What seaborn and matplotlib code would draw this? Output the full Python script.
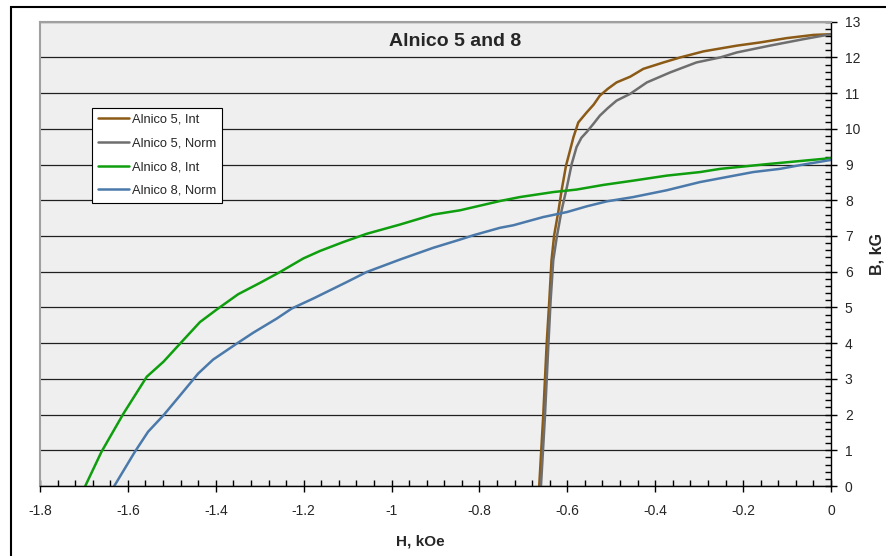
import matplotlib
matplotlib.use("Agg")
import matplotlib.pyplot as plt
import seaborn as sns
import pandas as pd
from matplotlib.patches import Rectangle
from matplotlib.ticker import MultipleLocator

# ---- data ----
a5_int_H = [-0.664, -0.655, -0.647, -0.641, -0.636, -0.630, -0.620, -0.613, -0.603, -0.594,
            -0.586, -0.575, -0.556, -0.540, -0.526, -0.508, -0.488, -0.457, -0.427, -0.381,
            -0.343, -0.290, -0.214, -0.161, -0.101, -0.040, 0.0]
a5_int_B = [0.0, 1.94, 3.99, 5.20, 6.32, 7.02, 7.72, 8.28, 8.97, 9.39,
            9.77, 10.18, 10.46, 10.68, 10.93, 11.12, 11.30, 11.46, 11.68, 11.86,
            12.00, 12.17, 12.33, 12.42, 12.54, 12.63, 12.65]

a5_norm_H = [-0.660, -0.651, -0.643, -0.638, -0.632, -0.624, -0.613, -0.601, -0.590, -0.579,
             -0.568, -0.556, -0.540, -0.526, -0.508, -0.488, -0.457, -0.419, -0.366, -0.306,
             -0.252, -0.214, -0.139, -0.063, 0.0]
a5_norm_B = [0.0, 1.94, 3.99, 5.20, 6.32, 6.97, 7.72, 8.37, 9.02, 9.49,
             9.75, 9.91, 10.15, 10.37, 10.58, 10.79, 10.98, 11.30, 11.58, 11.86,
             12.00, 12.14, 12.33, 12.51, 12.65]

a8_int_H = [-1.697, -1.660, -1.610, -1.557, -1.519, -1.481, -1.436, -1.398, -1.349, -1.299,
            -1.254, -1.201, -1.163, -1.110, -1.057, -0.981, -0.905, -0.844, -0.753, -0.708,
            -0.632, -0.579, -0.518, -0.450, -0.374, -0.298, -0.252, -0.139, 0.0]
a8_int_B = [0.0, 0.96, 2.03, 3.06, 3.48, 3.99, 4.59, 4.94, 5.37, 5.69,
            5.99, 6.37, 6.58, 6.83, 7.06, 7.32, 7.60, 7.72, 7.98, 8.09,
            8.23, 8.30, 8.43, 8.55, 8.69, 8.79, 8.88, 9.02, 9.18]

a8_norm_H = [-1.631, -1.584, -1.554, -1.519, -1.481, -1.440, -1.406, -1.352, -1.315, -1.261,
             -1.227, -1.178, -1.102, -1.057, -0.981, -0.905, -0.844, -0.814, -0.753, -0.723,
             -0.655, -0.601, -0.556, -0.510, -0.450, -0.374, -0.298, -0.177, -0.116, -0.063, 0.0]
a8_norm_B = [0.0, 0.96, 1.52, 1.98, 2.54, 3.15, 3.54, 3.99, 4.29, 4.69,
             4.97, 5.25, 5.71, 5.99, 6.34, 6.67, 6.90, 7.02, 7.23, 7.30,
             7.53, 7.67, 7.83, 7.97, 8.09, 8.28, 8.51, 8.79, 8.88, 9.00, 9.13]

series_names = ["Alnico 5, Int", "Alnico 5, Norm", "Alnico 8, Int", "Alnico 8, Norm"]
series_colors = ["#8B5A16", "#6E6E6E", "#0E9E0E", "#4A79AA"]
title_text = "Alnico 5 and 8"
x_label = "H, kOe"
y_label = "B, kG"

frames = []
for name, H, B in zip(series_names,
                      [a5_int_H, a5_norm_H, a8_int_H, a8_norm_H],
                      [a5_int_B, a5_norm_B, a8_int_B, a8_norm_B]):
    frames.append(pd.DataFrame({"H": H, "B": B, "series": name}))
df = pd.concat(frames, ignore_index=True)

# ---- style ----
sns.set_theme(style="white")
plt.rcParams["font.family"] = ["Liberation Sans", "DejaVu Sans"]

W, Hpx = 886, 556
fig = plt.figure(figsize=(W / 100, Hpx / 100), dpi=100)
fig.patch.set_facecolor("white")
x0, x1, y0, y1 = 40, 831, 21.7, 486
ax = fig.add_axes([x0 / W, 1 - y1 / Hpx, (x1 - x0) / W, (y1 - y0) / Hpx])
ax.set_facecolor("#EFEFEF")

# outer chart border (partly cut off)
fig.patches.append(Rectangle((11 / W, -0.2), 1.2, 1.2 - 7 / Hpx, transform=fig.transFigure,
                             fill=False, edgecolor="black", lw=1.5, zorder=0))

sns.lineplot(data=df, x="H", y="B", hue="series", hue_order=series_names,
             palette=dict(zip(series_names, series_colors)), sort=False,
             estimator=None, linewidth=1.8, ax=ax, legend=True)

ax.set_xlim(-1.8, 0)
ax.set_ylim(0, 13)
ax.xaxis.set_major_locator(MultipleLocator(0.2))
ax.xaxis.set_minor_locator(MultipleLocator(0.04))
ax.yaxis.set_major_locator(MultipleLocator(1))
ax.yaxis.set_minor_locator(MultipleLocator(0.2))
ax.xaxis.set_major_formatter(matplotlib.ticker.FuncFormatter(lambda v, p: f"{v:g}" if abs(v) > 1e-9 else "0"))
ax.yaxis.tick_right()
ax.yaxis.set_label_position("right")

ax.grid(axis="y", which="major", color="#202020", linewidth=0.9)
ax.grid(axis="x", visible=False)
ax.set_axisbelow(True)

for side in ["left", "top"]:
    ax.spines[side].set_color("#A0A0A0")
    ax.spines[side].set_linewidth(1.5)
for side in ["right", "bottom"]:
    ax.spines[side].set_color("black")
    ax.spines[side].set_linewidth(1.0)
    ax.spines[side].set_visible(True)

ax.tick_params(axis="x", which="major", direction="inout", length=8, width=1, color="black",
               labelsize=10, pad=9, bottom=True)
ax.tick_params(axis="x", which="minor", direction="in", length=4, width=1, color="black", bottom=True)
ax.tick_params(axis="y", which="major", direction="inout", length=8, width=1, color="black",
               labelsize=10, pad=6, right=True, left=False)
ax.tick_params(axis="y", which="minor", direction="in", length=4, width=1, color="black",
               right=True, left=False)

ax.set_xlabel(x_label, fontsize=11, fontweight="bold")
ax.xaxis.set_label_coords((420 - x0) / (x1 - x0), (y1 - 535) / (y1 - y0))
ax.set_ylabel(y_label, fontsize=11.5, fontweight="bold", rotation=90)
ax.yaxis.set_label_coords((869 - x0) / (x1 - x0), (y1 - 254) / (y1 - y0))

ax.text((455 - x0) / (x1 - x0), (y1 - 41) / (y1 - y0), title_text, transform=ax.transAxes,
        ha="center", va="center", fontsize=14, fontweight="bold")

leg = ax.legend(loc="upper left", bbox_to_anchor=((92 - x0) / (x1 - x0), (y1 - 108) / (y1 - y0)),
                fontsize=9.3, frameon=True, fancybox=False, shadow=False,
                edgecolor="black", facecolor="white", framealpha=1,
                handlelength=2.4, handletextpad=0.25, labelspacing=0.9,
                borderpad=0.45, borderaxespad=0)
leg.get_frame().set_linewidth(0.8)
for line in leg.get_lines():
    line.set_linewidth(1.8)

fig.savefig("out.png", dpi=100)
